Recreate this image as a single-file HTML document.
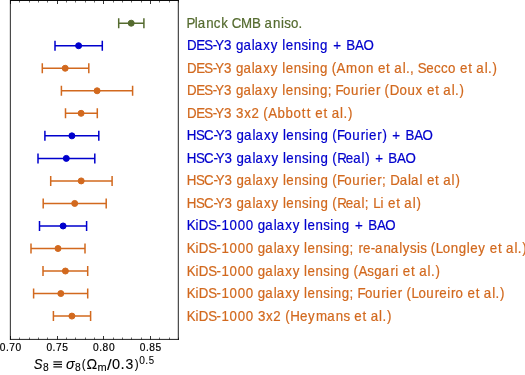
<!DOCTYPE html>
<html><head><meta charset="utf-8"><title>S8 comparison</title>
<style>
html,body{margin:0;padding:0;background:#fff;overflow:hidden;}
svg{display:block;will-change:transform;}
text{font-family:"Liberation Sans",sans-serif;stroke-linejoin:round;}
</style></head>
<body>
<svg width="525" height="375" viewBox="0 0 525 375">
<rect width="525" height="375" fill="#fff"/>
<g fill="none" stroke-width="1.50">
<path stroke="#556b2f" d="M118.70 23.20H143.90M118.70 18.20V28.20M143.90 18.20V28.20"/>
<path stroke="#0000cd" d="M55.00 45.73H102.30M55.00 40.73V50.73M102.30 40.73V50.73"/>
<path stroke="#d2691e" d="M42.30 68.26H88.80M42.30 63.26V73.26M88.80 63.26V73.26"/>
<path stroke="#d2691e" d="M61.40 90.79H132.60M61.40 85.79V95.79M132.60 85.79V95.79"/>
<path stroke="#d2691e" d="M65.50 113.32H97.30M65.50 108.32V118.32M97.30 108.32V118.32"/>
<path stroke="#0000cd" d="M44.90 135.85H98.80M44.90 130.85V140.85M98.80 130.85V140.85"/>
<path stroke="#0000cd" d="M38.00 158.38H94.80M38.00 153.38V163.38M94.80 153.38V163.38"/>
<path stroke="#d2691e" d="M50.70 180.91H112.10M50.70 175.91V185.91M112.10 175.91V185.91"/>
<path stroke="#d2691e" d="M43.20 203.44H106.20M43.20 198.44V208.44M106.20 198.44V208.44"/>
<path stroke="#0000cd" d="M39.50 225.97H86.60M39.50 220.97V230.97M86.60 220.97V230.97"/>
<path stroke="#d2691e" d="M31.00 248.50H85.00M31.00 243.50V253.50M85.00 243.50V253.50"/>
<path stroke="#d2691e" d="M43.00 271.03H87.70M43.00 266.03V276.03M87.70 266.03V276.03"/>
<path stroke="#d2691e" d="M33.60 293.56H87.70M33.60 288.56V298.56M87.70 288.56V298.56"/>
<path stroke="#d2691e" d="M53.40 316.09H90.60M53.40 311.09V321.09M90.60 311.09V321.09"/>
</g>
<circle cx="131.20" cy="23.20" r="3.00" fill="#556b2f" stroke="#556b2f" stroke-width="1.00"/>
<circle cx="78.60" cy="45.73" r="3.00" fill="#0000cd" stroke="#0000cd" stroke-width="1.00"/>
<circle cx="65.20" cy="68.26" r="3.00" fill="#d2691e" stroke="#d2691e" stroke-width="1.00"/>
<circle cx="97.10" cy="90.79" r="3.00" fill="#d2691e" stroke="#d2691e" stroke-width="1.00"/>
<circle cx="81.10" cy="113.32" r="3.00" fill="#d2691e" stroke="#d2691e" stroke-width="1.00"/>
<circle cx="71.90" cy="135.85" r="3.00" fill="#0000cd" stroke="#0000cd" stroke-width="1.00"/>
<circle cx="66.30" cy="158.38" r="3.00" fill="#0000cd" stroke="#0000cd" stroke-width="1.00"/>
<circle cx="81.20" cy="180.91" r="3.00" fill="#d2691e" stroke="#d2691e" stroke-width="1.00"/>
<circle cx="74.70" cy="203.44" r="3.00" fill="#d2691e" stroke="#d2691e" stroke-width="1.00"/>
<circle cx="63.10" cy="225.97" r="3.00" fill="#0000cd" stroke="#0000cd" stroke-width="1.00"/>
<circle cx="58.00" cy="248.50" r="3.00" fill="#d2691e" stroke="#d2691e" stroke-width="1.00"/>
<circle cx="65.40" cy="271.03" r="3.00" fill="#d2691e" stroke="#d2691e" stroke-width="1.00"/>
<circle cx="60.80" cy="293.56" r="3.00" fill="#d2691e" stroke="#d2691e" stroke-width="1.00"/>
<circle cx="71.90" cy="316.09" r="3.00" fill="#d2691e" stroke="#d2691e" stroke-width="1.00"/>
<path d="M10.35 0V340" stroke="#2a2a2a" stroke-width="1" fill="none"/>
<path d="M178.30 0V340" stroke="#222" stroke-width="1" fill="none"/>
<path d="M10 0.50H179" stroke="#0a0a0a" stroke-width="1" fill="none"/>
<path d="M10 339.40H179" stroke="#222" stroke-width="1" fill="none"/>
<path d="M10.50 0.50v3.50M10.50 339.50v-3.50M57.50 0.50v3.50M57.50 339.50v-3.50M103.50 0.50v3.50M103.50 339.50v-3.50M150.50 0.50v3.50M150.50 339.50v-3.50" stroke="#000" stroke-width="0.80" fill="none"/>
<path d="M19.50 0.50v2.00M19.50 339.50v-2.00M29.50 0.50v2.00M29.50 339.50v-2.00M38.50 0.50v2.00M38.50 339.50v-2.00M47.50 0.50v2.00M47.50 339.50v-2.00M66.50 0.50v2.00M66.50 339.50v-2.00M75.50 0.50v2.00M75.50 339.50v-2.00M85.50 0.50v2.00M85.50 339.50v-2.00M94.50 0.50v2.00M94.50 339.50v-2.00M113.50 0.50v2.00M113.50 339.50v-2.00M122.50 0.50v2.00M122.50 339.50v-2.00M131.50 0.50v2.00M131.50 339.50v-2.00M141.50 0.50v2.00M141.50 339.50v-2.00M159.50 0.50v2.00M159.50 339.50v-2.00M169.50 0.50v2.00M169.50 339.50v-2.00M178.50 0.50v2.00M178.50 339.50v-2.00" stroke="#000" stroke-width="0.60" fill="none"/>
<text x="-0.29 5.90 9.23 15.61" y="350.60" font-size="10.20" fill="#000" stroke="#000" stroke-width="0.20">0.70</text>
<text x="46.38 52.56 55.90 62.24" y="350.60" font-size="10.20" fill="#000" stroke="#000" stroke-width="0.20">0.75</text>
<text x="93.04 99.23 102.58 108.95" y="350.60" font-size="10.20" fill="#000" stroke="#000" stroke-width="0.20">0.80</text>
<text x="139.71 145.90 149.25 155.57" y="350.60" font-size="10.20" fill="#000" stroke="#000" stroke-width="0.20">0.85</text>
<text transform="translate(0 27.700) scale(1 1.0350)" x="186.41 194.76 197.73 206.16 213.88 221.31 228.22 231.83 241.10 252.03 260.85 264.61 273.04 281.04 284.36 291.10 298.63" y="0" font-size="13.30" fill="#556b2f" stroke="#556b2f" stroke-width="0.20">Planck CMB aniso.</text>
<text transform="translate(0 50.230) scale(1 1.0350)" x="186.92 196.14 204.30 212.79 215.24 223.92 231.65 235.95 243.49 251.85 254.82 263.30 270.85 277.95 282.28 285.76 293.71 301.49 308.33 311.93 319.89 327.71 333.20 342.41 346.36 355.09 363.49" y="0" font-size="13.30" fill="#0000cd" stroke="#0000cd" stroke-width="0.20">DES-Y3 galaxy lensing + BAO</text>
<text transform="translate(0 72.760) scale(1 1.0350)" x="186.92 196.14 204.30 212.79 215.24 223.92 231.65 235.95 243.49 251.85 254.82 263.30 270.85 277.95 282.28 285.76 293.71 301.49 308.33 311.93 319.89 327.71 331.68 336.63 346.10 358.00 365.95 373.65 377.93 386.13 390.51 394.27 402.63 406.05 409.97 413.97 417.68 426.32 433.93 440.92 448.09 455.68 459.96 468.16 472.53 476.30 484.66 488.07 492.55" y="0" font-size="13.30" fill="#d2691e" stroke="#d2691e" stroke-width="0.20">DES-Y3 galaxy lensing (Amon et al., Secco et al.)</text>
<text transform="translate(0 95.290) scale(1 1.0350)" x="186.92 196.14 204.30 212.79 215.24 223.92 231.65 235.95 243.49 251.85 254.82 263.30 270.85 277.95 282.28 285.76 293.71 301.49 308.33 311.93 319.89 327.75 331.99 335.61 343.10 350.99 359.39 364.27 367.75 375.98 380.56 384.54 389.68 399.56 407.45 415.62 422.73 427.02 435.22 439.59 443.36 451.72 455.13 459.61" y="0" font-size="13.30" fill="#d2691e" stroke="#d2691e" stroke-width="0.20">DES-Y3 galaxy lensing; Fourier (Doux et al.)</text>
<text transform="translate(0 117.820) scale(1 1.0350)" x="186.92 196.14 204.30 212.79 215.24 223.92 231.65 236.05 244.20 251.49 259.41 263.38 268.32 277.53 285.61 293.46 301.66 306.64 311.02 315.30 323.50 327.88 331.64 340.00 343.42 347.89" y="0" font-size="13.30" fill="#d2691e" stroke="#d2691e" stroke-width="0.20">DES-Y3 3x2 (Abbott et al.)</text>
<text transform="translate(0 140.350) scale(1 1.0350)" x="186.78 196.03 204.01 213.40 215.85 224.53 232.26 236.57 244.10 252.47 255.43 263.92 271.47 278.56 282.89 286.38 294.32 302.10 308.95 312.55 320.51 328.32 332.30 336.90 344.39 352.28 360.68 365.56 369.04 377.27 382.46 386.82 392.31 401.52 405.47 414.20 422.60" y="0" font-size="13.30" fill="#0000cd" stroke="#0000cd" stroke-width="0.20">HSC-Y3 galaxy lensing (Fourier) + BAO</text>
<text transform="translate(0 162.880) scale(1 1.0350)" x="186.78 196.03 204.01 213.40 215.85 224.53 232.26 236.57 244.10 252.47 255.43 263.92 271.47 278.56 282.89 286.38 294.32 302.10 308.95 312.55 320.51 328.32 332.30 337.15 345.83 353.14 361.50 365.35 369.71 375.20 384.41 388.36 397.10 405.50" y="0" font-size="13.30" fill="#0000cd" stroke="#0000cd" stroke-width="0.20">HSC-Y3 galaxy lensing (Real) + BAO</text>
<text transform="translate(0 185.410) scale(1 1.0350)" x="186.78 196.03 204.01 213.40 215.85 224.53 232.26 236.57 244.10 252.47 255.43 263.92 271.47 278.56 282.89 286.38 294.32 302.10 308.95 312.55 320.51 328.32 332.30 336.90 344.39 352.28 360.68 365.56 369.04 377.27 381.90 386.14 390.30 399.70 408.06 411.03 419.39 422.64 426.92 435.12 439.49 443.26 451.62 455.47" y="0" font-size="13.30" fill="#d2691e" stroke="#d2691e" stroke-width="0.20">HSC-Y3 galaxy lensing (Fourier; Dalal et al)</text>
<text transform="translate(0 207.940) scale(1 1.0350)" x="186.78 196.03 204.01 213.40 215.85 224.53 232.26 236.57 244.10 252.47 255.43 263.92 271.47 278.56 282.89 286.38 294.32 302.10 308.95 312.55 320.51 328.32 332.30 337.15 345.83 353.14 361.50 364.79 369.04 373.19 380.46 383.70 387.98 396.18 400.56 404.32 412.68 416.53" y="0" font-size="13.30" fill="#d2691e" stroke="#d2691e" stroke-width="0.20">HSC-Y3 galaxy lensing (Real; Li et al)</text>
<text transform="translate(0 230.470) scale(1 1.0350)" x="186.82 195.44 198.79 208.14 216.62 221.41 229.57 237.66 245.76 253.51 257.81 265.34 273.71 276.67 285.16 292.71 299.80 304.13 307.62 315.56 323.34 330.19 333.79 341.75 349.56 355.06 364.27 368.22 376.95 385.35" y="0" font-size="13.30" fill="#0000cd" stroke="#0000cd" stroke-width="0.20">KiDS-1000 galaxy lensing + BAO</text>
<text transform="translate(0 253.000) scale(1 1.0350)" x="186.82 195.44 198.79 208.14 216.62 221.41 229.57 237.66 245.76 253.51 257.81 265.34 273.71 276.67 285.16 292.71 299.80 304.13 307.62 315.56 323.34 330.19 333.79 341.75 349.61 353.85 358.54 363.08 370.75 374.98 383.41 390.84 399.20 402.88 410.05 416.89 420.21 426.76 430.73 435.88 442.82 450.77 458.73 466.84 470.32 478.34 485.43 489.72 497.92 502.29 506.05 514.42 517.83 522.31" y="0" font-size="13.30" fill="#d2691e" stroke="#d2691e" stroke-width="0.20">KiDS-1000 galaxy lensing; re-analysis (Longley et al.)</text>
<text transform="translate(0 275.530) scale(1 1.0350)" x="186.82 195.44 198.79 208.14 216.62 221.41 229.57 237.66 245.76 253.51 257.81 265.34 273.71 276.67 285.16 292.71 299.80 304.13 307.62 315.56 323.34 330.19 333.79 341.75 349.56 353.54 358.48 367.35 374.16 381.69 390.41 395.29 398.53 402.81 411.01 415.39 419.15 427.51 430.93 435.41" y="0" font-size="13.30" fill="#d2691e" stroke="#d2691e" stroke-width="0.20">KiDS-1000 galaxy lensing (Asgari et al.)</text>
<text transform="translate(0 298.060) scale(1 1.0350)" x="186.82 195.44 198.79 208.14 216.62 221.41 229.57 237.66 245.76 253.51 257.81 265.34 273.71 276.67 285.16 292.71 299.80 304.13 307.62 315.56 323.34 330.19 333.79 341.75 349.61 353.85 357.46 364.95 372.84 381.25 386.13 389.60 397.84 402.42 406.39 411.54 418.48 426.38 434.78 439.32 447.20 451.09 455.59 463.17 467.46 475.66 480.03 483.79 492.16 495.57 500.05" y="0" font-size="13.30" fill="#d2691e" stroke="#d2691e" stroke-width="0.20">KiDS-1000 galaxy lensing; Fourier (Loureiro et al.)</text>
<text transform="translate(0 320.590) scale(1 1.0350)" x="186.82 195.44 198.79 208.14 216.62 221.41 229.57 237.66 245.76 253.51 257.91 266.05 273.35 281.26 285.24 290.24 300.07 308.09 315.88 327.30 335.73 343.51 350.06 354.34 362.54 366.92 370.68 379.04 382.46 386.94" y="0" font-size="13.30" fill="#d2691e" stroke="#d2691e" stroke-width="0.20">KiDS-1000 3x2 (Heymans et al.)</text>
<text transform="translate(33.709 369.184) scale(0.9510 1.0683)" font-size="13.80" font-style="italic" fill="#000" stroke="#000" stroke-width="0.08">S</text>
<text transform="translate(42.936 371.466) scale(1.0656 1.0683)" font-size="9.66" fill="#000" stroke="#000" stroke-width="0.08">8</text>
<rect x="53.38" y="366.35" width="8.64" height="1.15" fill="#000"/>
<rect x="53.38" y="363.83" width="8.64" height="1.15" fill="#000"/>
<rect x="53.38" y="361.32" width="8.64" height="1.15" fill="#000"/>
<text transform="translate(66.051 369.188) scale(1.0463 1.0436)" font-size="13.80" font-style="italic" fill="#000" stroke="#000" stroke-width="0.08">σ</text>
<text transform="translate(75.036 371.466) scale(1.0656 1.0683)" font-size="9.66" fill="#000" stroke="#000" stroke-width="0.08">8</text>
<text transform="translate(81.797 368.221) scale(0.8453 0.9560)" font-size="13.80" fill="#000" stroke="#000" stroke-width="0.08">(</text>
<text transform="translate(86.615 369.133) scale(1.0391 1.0566)" font-size="13.80" fill="#000" stroke="#000" stroke-width="0.08">Ω</text>
<text transform="translate(97.486 371.430) scale(1.1394 1.0408)" font-size="9.66" fill="#000" stroke="#000" stroke-width="0.08">m</text>
<text transform="translate(107.099 370.262) scale(1.2127 1.1190)" font-size="13.80" fill="#000" stroke="#000" stroke-width="0.08">/</text>
<text transform="translate(112.072 369.184) scale(1.0541 1.0683)" font-size="13.80" fill="#000" stroke="#000" stroke-width="0.08">0</text>
<text transform="translate(120.623 369.133) scale(1.0821 1.1598)" font-size="13.80" fill="#000" stroke="#000" stroke-width="0.08">.</text>
<text transform="translate(125.417 369.184) scale(1.0124 1.0683)" font-size="13.80" fill="#000" stroke="#000" stroke-width="0.08">3</text>
<text transform="translate(134.635 368.221) scale(0.8453 0.9560)" font-size="13.80" fill="#000" stroke="#000" stroke-width="0.08">)</text>
<text transform="translate(139.336 363.809) scale(1.0541 1.0683)" font-size="9.66" fill="#000" stroke="#000" stroke-width="0.08">0</text>
<text transform="translate(145.322 363.773) scale(1.0821 1.1598)" font-size="9.66" fill="#000" stroke="#000" stroke-width="0.08">.</text>
<text transform="translate(148.674 363.809) scale(0.9949 1.0651)" font-size="9.66" fill="#000" stroke="#000" stroke-width="0.08">5</text>
</svg>
</body></html>
